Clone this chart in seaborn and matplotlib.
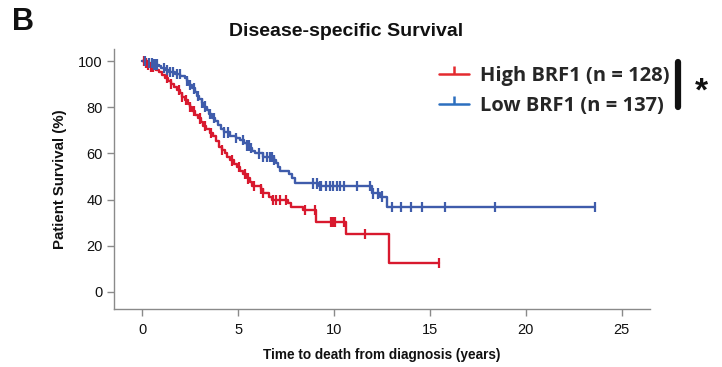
import numpy as np
import pandas as pd
import matplotlib
matplotlib.use("Agg")
import matplotlib.pyplot as plt
from matplotlib.lines import Line2D
from matplotlib.path import Path
import seaborn as sns

# ---- data ----
groups = ["High BRF1 (n = 128)", "Low BRF1 (n = 137)"]

high_step_t = [0.0, 0.15, 0.3, 0.45, 0.6, 0.75, 0.9, 1.05, 1.2, 1.35, 1.5, 1.65, 1.8, 1.95,
               2.1, 2.25, 2.4, 2.5, 2.6, 2.75, 2.9, 3.05, 3.2, 3.35, 3.55, 3.7, 3.85, 4.0,
               4.15, 4.3, 4.45, 4.6, 4.8, 4.95, 5.1, 5.25, 5.45, 5.6, 5.75, 6.2, 6.3, 6.6,
               6.75, 7.6, 7.75, 8.4, 9.05, 10.65, 12.85]
high_step_s = [100, 99.2, 98.4, 97.6, 96.8, 96.0, 95.2, 94.0, 92.6, 91.2, 90.0, 88.6, 87.4, 86.0,
               84.6, 83.2, 81.6, 80.0, 78.5, 76.8, 75.2, 73.6, 72.0, 70.4, 69.0, 67.4, 65.2, 63.0,
               61.4, 60.0, 58.6, 57.0, 55.6, 54.0, 52.6, 51.0, 49.2, 47.6, 45.8, 44.6, 42.8, 41.2,
               39.8, 38.4, 36.8, 35.5, 30.2, 25.0, 12.5]
high_end = 15.45
high_censor_t = [0.1, 0.2, 0.3, 0.45, 0.55, 1.3, 1.5, 1.9, 2.1, 2.3, 2.5, 2.7, 3.0, 3.3, 3.6,
                 4.15, 4.7, 5.05, 5.35, 5.5, 5.85, 6.2, 6.3, 6.8, 7.0, 7.2, 7.5, 8.5, 9.0,
                 9.85, 9.95, 10.05, 10.5, 11.6, 15.45]

low_step_t = [0.0, 0.3, 0.55, 0.9, 1.0, 1.2, 1.4, 1.7, 2.0, 2.25, 2.35, 2.45, 2.6, 2.75, 2.85,
              2.95, 3.1, 3.25, 3.4, 3.5, 3.65, 3.8, 3.95, 4.1, 4.25, 4.6, 4.9, 5.1, 5.3, 5.45,
              5.6, 5.75, 5.9, 6.3, 6.9, 7.0, 7.1, 7.2, 7.65, 7.8, 7.95, 9.2, 12.0, 12.4, 12.75]
low_step_s = [100, 99.3, 98.5, 97.7, 96.9, 96.1, 95.3, 94.5, 93.7, 92.9, 91.3, 89.7, 88.2, 86.6,
              85.0, 83.5, 81.9, 80.3, 78.7, 77.1, 75.5, 73.9, 72.3, 70.7, 69.1, 67.5, 66.6, 65.7,
              64.4, 63.5, 62.3, 61.0, 60.0, 58.6, 57.1, 55.7, 54.0, 52.2, 50.9, 49.2, 47.0, 46.0,
              42.7, 41.3, 36.9]
low_end = 23.6
low_censor_t = [0.15, 0.35, 0.5, 0.6, 0.7, 0.8, 1.15, 1.3, 1.45, 1.6, 1.8, 1.95, 2.35, 2.5, 2.7,
                2.9, 3.1, 3.3, 3.55, 3.75, 4.25, 4.5, 4.9, 5.25, 5.45, 5.55, 5.7, 6.1, 6.3, 6.5,
                6.65, 6.75, 6.9, 8.9, 9.1, 9.25, 9.35, 9.6, 9.8, 9.95, 10.15, 10.3, 10.5, 11.2,
                11.9, 12.05, 12.3, 12.5, 13.0, 13.5, 14.0, 14.6, 15.8, 18.4, 23.6]

x_ticks = [0, 5, 10, 15, 20, 25]
y_ticks = [0, 20, 40, 60, 80, 100]

red = "#d8192e"
blue = "#3f5cab"
red_leg = "#e42a2f"
blue_leg = "#2c6fbf"


def step_value(ts, ss, t):
    i = np.searchsorted(np.asarray(ts), t, side="right") - 1
    return ss[i]


curve_rows = []
cens_rows = []
for g, ts, ss, te, cs in [(groups[0], high_step_t, high_step_s, high_end, high_censor_t),
                          (groups[1], low_step_t, low_step_s, low_end, low_censor_t)]:
    for t, s in zip(ts, ss):
        curve_rows.append((g, t, s))
    curve_rows.append((g, te, ss[-1]))
    for c in cs:
        cens_rows.append((g, c, step_value(ts, ss, c)))

curves = pd.DataFrame(curve_rows, columns=["group", "time", "surv"])
cens = pd.DataFrame(cens_rows, columns=["group", "time", "surv"])

sns.set_style("white")
plt.rcParams["font.family"] = ["Liberation Sans", "DejaVu Sans"]

fig = plt.figure(figsize=(7.22, 3.67), dpi=100)
ax = fig.add_axes([0.158, 0.158, 0.742, 0.708])

pal = {groups[0]: red, groups[1]: blue}
sns.lineplot(data=curves, x="time", y="surv", hue="group", palette=pal,
             estimator=None, sort=False, drawstyle="steps-post", linewidth=1.7,
             legend=False, ax=ax)
sns.scatterplot(data=cens, x="time", y="surv", hue="group", palette=pal,
                marker="|", s=55, linewidth=1.6, legend=False, ax=ax, zorder=3)

ax.set_xlim(-1.46, 26.46)
ax.set_ylim(-7.4, 105.2)
ax.set_xticks(x_ticks)
ax.set_yticks(y_ticks)
ax.set_xticklabels([str(v) for v in x_ticks], fontsize=10.5)
ax.set_yticklabels([str(v) for v in y_ticks], fontsize=10.5)
for s in ["top", "right"]:
    ax.spines[s].set_visible(False)
for s in ["left", "bottom"]:
    ax.spines[s].set_color("#8a8a8a")
    ax.spines[s].set_linewidth(1.0)
ax.tick_params(axis="both", which="both", direction="out", length=5, width=1.0,
               color="#8a8a8a", labelcolor="#111111", bottom=True, left=True, pad=3)
ax.tick_params(axis="x", pad=5)
ax.set_xlabel("Time to death from diagnosis (years)", fontsize=9.8, fontweight="bold",
              color="#111111", labelpad=8)
ax.set_ylabel("Patient Survival (%)", fontsize=10.8, fontweight="bold", color="#111111",
              labelpad=8)

fig.text(0.479, 0.913, "Disease-specific Survival", ha="center", va="center",
         fontsize=14, fontweight="bold", color="#111111")
fig.text(0.016, 0.94, "B", ha="left", va="center", fontsize=22, fontweight="bold",
         color="#111111")

# legend
tick_up = Path([(0, 0), (0, 1)], [Path.MOVETO, Path.LINETO])
handles = [Line2D([0], [0], color=red_leg, lw=1.8, marker=tick_up, markersize=11,
                  markeredgewidth=1.8),
           Line2D([0], [0], color=blue_leg, lw=1.8, marker=tick_up, markersize=11,
                  markeredgewidth=1.8)]
leg = ax.legend(handles, groups, loc="upper left", bbox_to_anchor=(0.572, 1.006),
                frameon=False, handlelength=1.5, handletextpad=0.55, labelspacing=0.5,
                prop={"family": ["Open Sans", "DejaVu Sans"], "weight": "bold", "size": 14.5})

fig.add_artist(Line2D([0.9385, 0.9385], [0.708, 0.832], color="#111111", lw=4.5,
                      transform=fig.transFigure))
fig.text(0.972, 0.748, "*", ha="center", va="center", fontsize=24, fontweight="bold",
         color="#111111")

fig.savefig("out.png", dpi=100)
